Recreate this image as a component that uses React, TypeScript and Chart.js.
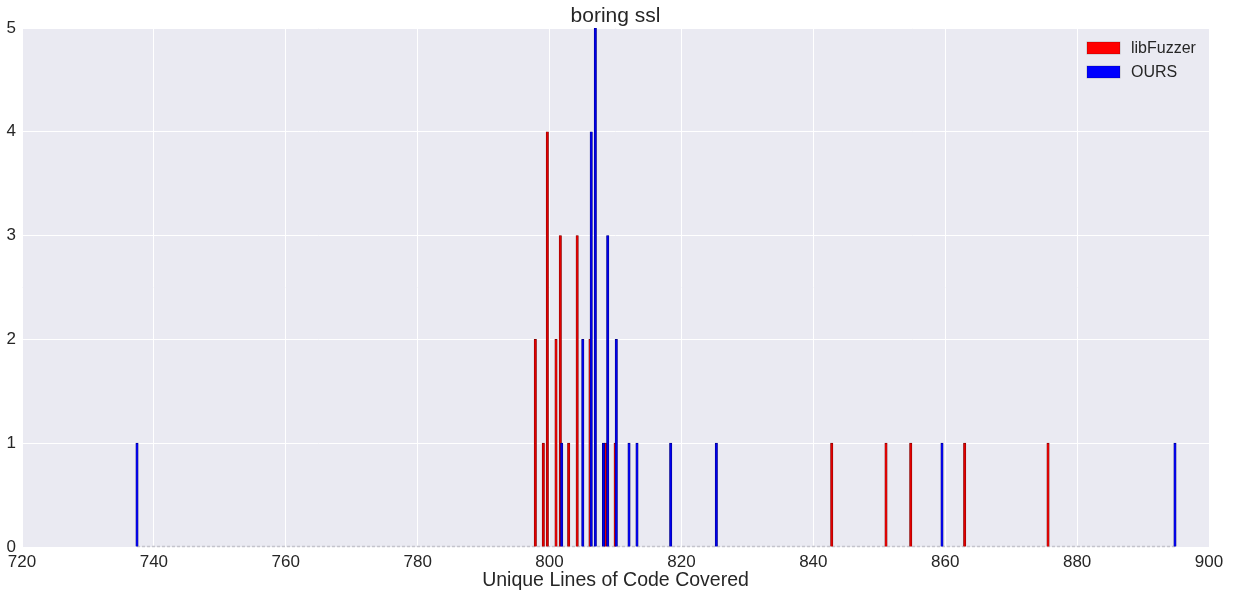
import React, { useEffect, useRef } from "react";
import { Chart, registerables } from "chart.js";

Chart.register(...registerables);

const TITLE = "boring ssl";
const X_LABEL = "Unique Lines of Code Covered";
const SERIES_NAMES = ["libFuzzer", "OURS"];

const libFuzzerValues = [797.84, 799.05, 799.66, 800.98, 801.63, 802.9, 804.19, 806.13, 808.48, 809.95, 842.79, 851.02, 854.77, 862.95, 875.59];
const libFuzzerCounts = [2, 1, 4, 2, 3, 1, 3, 2, 1, 1, 1, 1, 1, 1, 1];

const oursValues = [737.44, 801.84, 805.04, 806.32, 806.94, 808.18, 808.82, 810.12, 812.05, 813.26, 818.37, 825.29, 859.51, 894.84];
const oursCounts = [1, 1, 2, 4, 5, 1, 3, 2, 1, 1, 1, 1, 1, 1];

const X_MIN = 720;
const X_MAX = 900;
const X_STEP = 20;
const Y_MIN = 0;
const Y_MAX = 5;
const Y_STEP = 1;

const FONT = "'Liberation Sans', Arial, sans-serif";
const TEXT_COLOR = "#262626";

const baselinePlugin = {
  id: "baseline",
  beforeDatasetsDraw(chart: any) {
    const { ctx, scales } = chart;
    const all = [...libFuzzerValues, ...oursValues];
    const x0 = scales.x.getPixelForValue(Math.min(...all));
    const x1 = scales.x.getPixelForValue(Math.max(...all));
    const y = scales.y.getPixelForValue(0) - 0.5;
    ctx.save();
    ctx.strokeStyle = "#c4c4cc";
    ctx.lineWidth = 1.5;
    ctx.setLineDash([3, 2]);
    ctx.beginPath();
    ctx.moveTo(x0, y);
    ctx.lineTo(x1, y);
    ctx.stroke();
    ctx.restore();
  },
};

const titlePlugin = {
  id: "areaTitle",
  afterDraw(chart: any) {
    const { ctx, chartArea } = chart;
    ctx.save();
    ctx.font = `21px ${FONT}`;
    ctx.fillStyle = TEXT_COLOR;
    ctx.textAlign = "center";
    ctx.textBaseline = "middle";
    ctx.fillText(TITLE, (chartArea.left + chartArea.right) / 2, 16);
    ctx.restore();
  },
};

const legendPlugin = {
  id: "innerLegend",
  afterDraw(chart: any) {
    const { ctx, chartArea } = chart;
    const boxW = 33;
    const boxH = 12;
    const right = chartArea.right;
    const x = right - 122;
    const startY = chartArea.top + 14;
    const rowH = 24;
    ctx.save();
    ctx.font = `16px ${FONT}`;
    ctx.textBaseline = "middle";
    ctx.textAlign = "left";
    chart.data.datasets.forEach((ds: any, i: number) => {
      const y = startY + i * rowH;
      ctx.fillStyle = ds.legendColor;
      ctx.fillRect(x, y, boxW, boxH);
      ctx.strokeStyle = "rgba(0,0,0,0.25)";
      ctx.lineWidth = 0.8;
      ctx.strokeRect(x, y, boxW, boxH);
      ctx.fillStyle = TEXT_COLOR;
      ctx.fillText(ds.label, x + boxW + 11, y + boxH / 2 + 0.5);
    });
    ctx.restore();
  },
};

export default function App() {
  const canvasRef = useRef<HTMLCanvasElement | null>(null);

  useEffect(() => {
    document.body.style.margin = "0";
    const canvas = canvasRef.current;
    if (!canvas) return;
    const chart = new Chart(canvas, {
      type: "bar",
      data: {
        datasets: [
          {
            label: SERIES_NAMES[0],
            data: libFuzzerValues.map((v, i) => ({ x: v, y: libFuzzerCounts[i] })),
            backgroundColor: "rgb(225,0,0)",
            borderColor: "rgb(120,0,0)",
            borderWidth: 0.6,
            barThickness: 2.4,
            grouped: false,
            order: 1,
            legendColor: "#ff0000",
          } as any,
          {
            label: SERIES_NAMES[1],
            data: oursValues.map((v, i) => ({ x: v, y: oursCounts[i] })),
            backgroundColor: "rgb(0,0,235)",
            borderColor: "rgb(0,0,120)",
            borderWidth: 0.6,
            barThickness: 2.4,
            grouped: false,
            order: 0,
            legendColor: "#0000ff",
          } as any,
        ],
      },
      options: {
        animation: false,
        responsive: false,
        maintainAspectRatio: false,
        layout: { padding: { left: 0, right: 25, top: 28, bottom: 0 } },
        plugins: {
          legend: { display: false },
          tooltip: { enabled: false },
          title: { display: false },
        },
        scales: {
          x: {
            type: "linear",
            min: X_MIN,
            max: X_MAX,
            offset: false,
            border: { display: false },
            grid: { color: "#ffffff", lineWidth: 1, drawTicks: false, offset: false },
            ticks: {
              stepSize: X_STEP,
              color: TEXT_COLOR,
              font: { family: FONT, size: 17 },
              padding: 5,
              maxRotation: 0,
              autoSkip: false,
            },
            title: {
              display: true,
              text: X_LABEL,
              color: TEXT_COLOR,
              font: { family: FONT, size: 19.5 },
              padding: { top: 0, bottom: 3 },
            },
            afterFit: (s: any) => {
              s.height = 48;
            },
          },
          y: {
            min: Y_MIN,
            max: Y_MAX,
            border: { display: false },
            grid: { color: "#ffffff", lineWidth: 1, drawTicks: false },
            ticks: {
              stepSize: Y_STEP,
              color: TEXT_COLOR,
              font: { family: FONT, size: 17 },
              padding: 6,
            },
            afterFit: (s: any) => {
              s.width = 22;
            },
          },
        },
      },
      plugins: [
        {
          id: "bg",
          beforeDraw(chart: any) {
            const { ctx, chartArea } = chart;
            ctx.save();
            ctx.fillStyle = "#eaeaf2";
            ctx.fillRect(chartArea.left, chartArea.top, chartArea.right - chartArea.left, chartArea.bottom - chartArea.top);
            ctx.restore();
          },
        },
        baselinePlugin,
        titlePlugin,
        legendPlugin,
      ],
    });
    return () => chart.destroy();
  }, []);

  return (
    <div style={{ width: 1234, height: 595 }}>
      <canvas ref={canvasRef} width={1234} height={595} style={{ display: "block" }} />
    </div>
  );
}
